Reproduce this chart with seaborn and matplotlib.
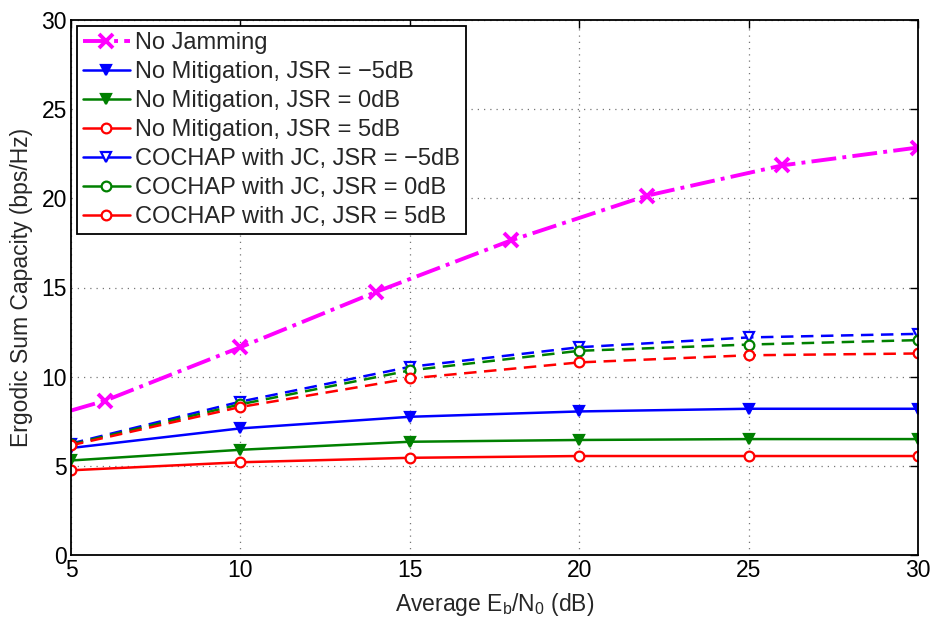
import matplotlib
matplotlib.use("Agg")
import matplotlib.pyplot as plt
from matplotlib.lines import Line2D
import seaborn as sns

# ---- data ----
x_nojam = [5, 6, 10, 14, 18, 22, 26, 30]
y_nojam = [8.1, 8.65, 11.65, 14.75, 17.65, 20.15, 21.85, 22.85]

x_snr = [5, 10, 15, 20, 25, 30]
nm_m5 = [6.0, 7.1, 7.75, 8.05, 8.2, 8.2]
nm_0 = [5.3, 5.9, 6.35, 6.45, 6.5, 6.5]
nm_5 = [4.75, 5.2, 5.45, 5.55, 5.55, 5.55]
co_m5 = [6.25, 8.6, 10.55, 11.65, 12.2, 12.4]
co_0 = [6.2, 8.45, 10.35, 11.45, 11.8, 12.05]
co_5 = [6.15, 8.3, 9.9, 10.8, 11.2, 11.3]

labels = ["No Jamming",
          "No Mitigation, JSR = \u22125dB",
          "No Mitigation, JSR = 0dB",
          "No Mitigation, JSR = 5dB",
          "COCHAP with JC, JSR = \u22125dB",
          "COCHAP with JC, JSR = 0dB",
          "COCHAP with JC, JSR = 5dB"]

xticks = [5, 10, 15, 20, 25, 30]
yticks = [0, 5, 10, 15, 20, 25, 30]

sns.set_style("white")
plt.rcParams['font.family'] = ['Liberation Sans', 'DejaVu Sans']
plt.rcParams['mathtext.fontset'] = 'custom'
plt.rcParams['mathtext.rm'] = 'Liberation Sans'
plt.rcParams['mathtext.it'] = 'Liberation Sans'

FS = 16.5
FSL = 17.0
fig = plt.figure(figsize=(9.33, 6.21), dpi=100)
ax = fig.add_axes([71/933, 1-555/621, (918-71)/933, (555-20)/621])

MAG, BLU, GRN, RED = '#ff00ff', '#0000ff', '#008000', '#ff0000'
DASH = (0, (5, 3))

# No jamming: line then markers
sns.lineplot(x=x_nojam, y=y_nojam, ax=ax, color=MAG, linestyle='-.', lw=2.8, sort=False)
sns.lineplot(x=x_nojam[1:], y=y_nojam[1:], ax=ax, color=MAG, linestyle='none',
             marker='x', markersize=10, markeredgewidth=2.8, markeredgecolor=MAG)

specs = [
    (nm_m5, BLU, '-', 'v', BLU),
    (nm_0, GRN, '-', 'v', GRN),
    (nm_5, RED, '-', 'o', 'white'),
    (co_m5, BLU, DASH, 'v', 'white'),
    (co_0, GRN, DASH, 'o', 'white'),
    (co_5, RED, DASH, 'o', 'white'),
]
handles = [Line2D([], [], color=MAG, linestyle='-.', lw=2.8, marker='x',
                  markersize=10, markeredgewidth=2.8)]
for ys, c, ls, m, fc in specs:
    sns.lineplot(x=x_snr, y=ys, ax=ax, color=c, linestyle=ls, lw=1.8,
                 marker=m, markersize=7, markerfacecolor=fc, markeredgecolor=c,
                 markeredgewidth=1.6)
    handles.append(Line2D([], [], color=c, linestyle='-', lw=1.8, marker=m,
                          markersize=7, markerfacecolor=fc, markeredgecolor=c,
                          markeredgewidth=1.6))

ax.set_xlim(5, 30)
ax.set_ylim(0, 30)
ax.set_xticks(xticks)
ax.set_yticks(yticks)
ax.tick_params(direction='in', length=6, width=1, labelsize=FS, top=True, right=True,
               colors='black', pad=3)
ax.grid(True, linestyle=(0, (1, 4)), color='#777777', linewidth=0.9)
for s in ax.spines.values():
    s.set_visible(True)
    s.set_color('black')
    s.set_linewidth(1.3)

ax.set_xlabel('Average E$_\\mathregular{b}$/N$_\\mathregular{0}$ (dB)', fontsize=FS, labelpad=6)
ax.set_ylabel('Ergodic Sum Capacity (bps/Hz)', fontsize=FS, labelpad=6)

leg = ax.legend(handles=handles, labels=labels, loc='upper left', fontsize=FSL,
                frameon=True, fancybox=False, edgecolor='black', borderaxespad=0.25,
                handlelength=2.0, handletextpad=0.2, labelspacing=0.3, borderpad=0.25)
leg.get_frame().set_linewidth(1.3)
leg.get_frame().set_alpha(1)

fig.savefig('out.png', dpi=100)
